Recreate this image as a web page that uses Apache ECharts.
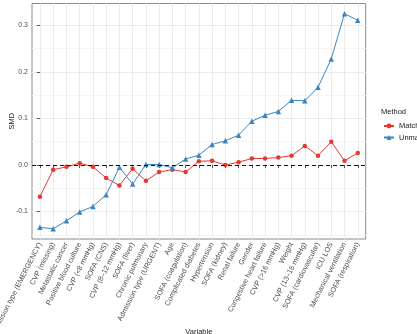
<!DOCTYPE html>
<html>
<head>
<meta charset="utf-8">
<script src="https://cdn.jsdelivr.net/npm/echarts@6/dist/echarts.min.js"></script>
<style>
  html, body { margin: 0; padding: 0; background: #fff; }
  #chart { width: 417px; height: 334px; }
</style>
</head>
<body>
<div id="chart"></div>
<script>
const variables = [
  "Admission type (EMERGENCY)", "CVP (missing)", "Metastatic cancer", "Positive blood culture",
  "CVP (<8 mmHg)", "SOFA (CNS)", "CVP (8\u201312 mmHg)", "SOFA (liver)", "Chronic pulmonary",
  "Admission type (URGENT)", "Age", "SOFA (coagulation)", "Complicated diabetes", "Hypertension",
  "SOFA (kidney)", "Renal failure", "Gender", "Congestive heart failure", "CVP (>16 mmHg)",
  "Weight", "CVP (13\u201316 mmHg)", "SOFA (cardiovascular)", "ICU LOS", "Mechanical ventilation",
  "SOFA (respiration)"
];
const matched = [
  -0.068, -0.010, -0.004, 0.004, -0.004, -0.028, -0.044, -0.008, -0.034, -0.015,
  -0.010, -0.015, 0.008, 0.009, 0.000, 0.006, 0.014, 0.014, 0.016, 0.020,
  0.041, 0.020, 0.050, 0.009, 0.026
];
const unmatched = [
  -0.134, -0.137, -0.120, -0.101, -0.089, -0.064, -0.005, -0.041, 0.001, 0.001,
  -0.006, 0.013, 0.021, 0.044, 0.052, 0.064, 0.094, 0.107, 0.115, 0.139,
  0.138, 0.167, 0.228, 0.325, 0.311
];
const yTicks = [-0.1, 0.0, 0.1, 0.2, 0.3];
const yMinor = [-0.15, -0.05, 0.05, 0.15, 0.25];

const positions = variables.map((_, i) => i);
const toPairs = (vals) => vals.map((v, i) => [i, v]);

const chart = echarts.init(document.getElementById('chart'));
const font = 'Liberation Sans, Arial, sans-serif';

chart.setOption({
  animation: false,
  title: {
    text: 'Method', left: 376, top: 103,
    textStyle: { fontSize: 7.5, fontWeight: 'normal', color: '#222', fontFamily: font }
  },
  legend: {
    orient: 'vertical', left: 378, top: 117, itemGap: 3.5,
    itemWidth: 10, itemHeight: 6,
    textStyle: { fontSize: 7.5, color: '#222', fontFamily: font },
    data: ['Matched', 'Unmatched']
  },
  grid: {
    left: 32, right: 51.3, top: 3.5, bottom: 95,
    show: true, borderColor: '#8a8a8a', borderWidth: 1,
    containLabel: false, outerBoundsMode: 'none'
  },
  xAxis: {
    type: 'value', min: -0.6, max: 24.6,
    name: 'Variable', nameLocation: 'middle', nameGap: 89, nameMoveOverlap: false,
    nameTextStyle: { fontSize: 7.5, color: '#222', fontFamily: font },
    axisLine: { show: false },
    axisTick: { show: true, length: 3, customValues: positions, lineStyle: { color: '#555' } },
    axisLabel: {
      customValues: positions, rotate: 63, margin: 4,
      fontSize: 7.3, color: '#4d4d4d', fontFamily: font,
      formatter: (v) => variables[Math.round(v)]
    },
    splitLine: { show: true, lineStyle: { color: '#ebebeb', width: 1 } }
  },
  yAxis: [{
    type: 'value', min: -0.159, max: 0.347,
    name: 'SMD', nameLocation: 'middle', nameGap: 16, nameMoveOverlap: false,
    nameTextStyle: { fontSize: 7.5, color: '#222', fontFamily: font },
    axisLine: { show: false },
    axisTick: { show: true, length: 3, customValues: yTicks, lineStyle: { color: '#555' } },
    axisLabel: {
      customValues: yTicks, margin: 4, fontSize: 7, color: '#4d4d4d', fontFamily: font,
      formatter: (v) => v.toFixed(1)
    },
    splitLine: { show: true, lineStyle: { color: '#ebebeb', width: 1 } }
  }, {
    type: 'value', min: -0.159, max: 0.347, position: 'left',
    axisLine: { show: false },
    axisTick: { show: false, customValues: yMinor },
    axisLabel: { show: false, customValues: yMinor },
    splitLine: { show: true, lineStyle: { color: '#f5f5f5', width: 1 } }
  }],
  series: [{
    name: 'Matched', type: 'line', data: toPairs(matched),
    symbol: 'circle', symbolSize: 4.5,
    lineStyle: { color: '#e4392e', width: 1 },
    itemStyle: { color: '#e4392e' },
    markLine: {
      silent: true, symbol: 'none', label: { show: false },
      lineStyle: { color: '#111', type: [4, 3], width: 1 },
      data: [{ yAxis: 0 }]
    },
    z: 3
  }, {
    name: 'Unmatched', type: 'line', data: toPairs(unmatched),
    symbol: 'triangle', symbolSize: 5.5,
    lineStyle: { color: '#3a86c2', width: 1 },
    itemStyle: { color: '#3a86c2' },
    z: 3
  }]
});
</script>
</body>
</html>
